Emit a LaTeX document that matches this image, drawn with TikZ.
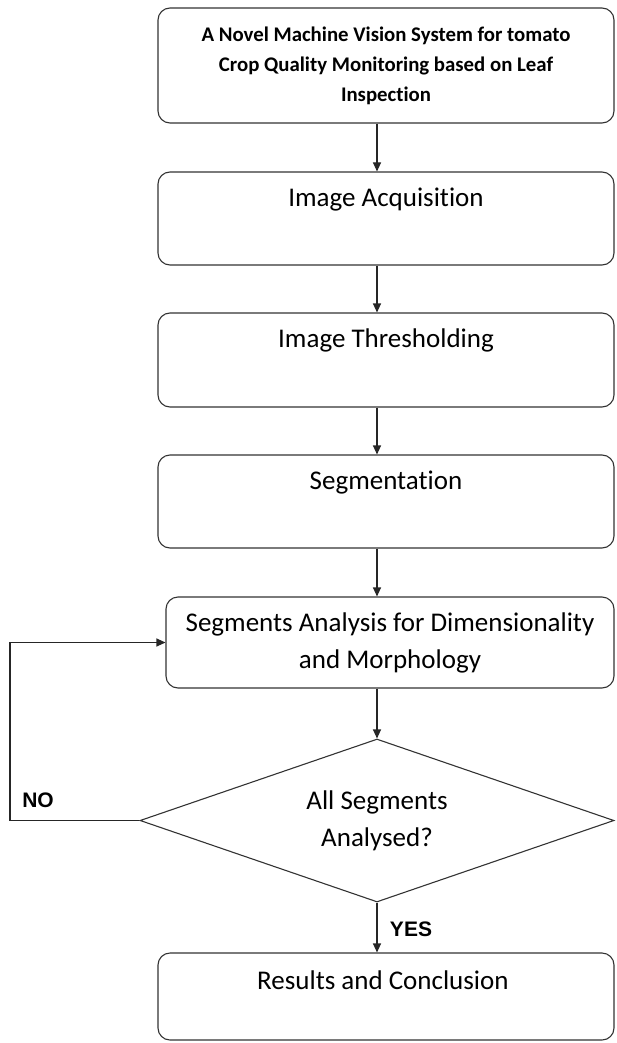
\documentclass[tikz,border=0pt]{standalone}
\usepackage{fontspec}
\setmainfont{Carlito}[Ligatures=NoCommon]
\newfontfamily\labelfont{Liberation Sans}
\usepackage{tikz}
\usetikzlibrary{arrows.meta, shapes.geometric}

\tikzset{
  stepbox/.style={draw=black!80, line width=1.1pt, rounded corners=12pt,
    minimum width=456pt, inner sep=0pt},
  steptext/.style={font=\fontsize{27}{37}\selectfont, align=center, inner sep=0pt},
  decision/.style={draw=black!80, line width=1.1pt, diamond, aspect=2.9, inner sep=0pt,
    minimum width=474pt, minimum height=163pt},
  flow/.style={draw=black!85, line width=1.1pt, -{Triangle[length=9pt,width=8pt]}},
  answer/.style={font=\labelfont\bfseries\fontsize{21}{24}\selectfont, inner sep=0pt}
}

\begin{document}
\begin{tikzpicture}[x=1pt, y=-1pt]
  \useasboundingbox (0,0) rectangle (616,1043);
  \coordinate (axis) at (377,0);
  \coordinate (loopx) at (10,0);

  \node[stepbox, minimum height=115pt, align=center,
        font=\bfseries\fontsize{20.8}{30}\selectfont] (title) at (386,65.5)
    {A Novel Machine Vision System for tomato\\Crop Quality Monitoring based on Leaf\\Inspection};

  % boxes with the text near the top
  \foreach \name/\y/\h/\txt in {
    acq/218.5/93/Image Acquisition,
    thr/360/94/Image Thresholding,
    seg/501.5/93/Segmentation,
    res/996.5/87/Results and Conclusion
  }{
    \node[stepbox, minimum height=\h pt] (\name) at (386,\y) {};
    \node[steptext] (\name text) at ([yshift=-28pt]\name.north) {\txt};
  }

  \node[stepbox, steptext, minimum width=448pt, minimum height=91pt] (ana) at (390,642.5)
    {Segments Analysis for Dimensionality\\and Morphology};
  \node[decision, steptext] (chk) at (377,820.5) {All Segments\\Analysed?};

  \foreach \a/\b in {title/acq, acq/thr, thr/seg, seg/ana, ana/chk, chk/res}
    \draw[flow] (\a.south -| axis) -- (\b.north -| axis);

  \draw[flow] (chk.west) -- (chk.west -| loopx) |- (ana.west);

  \node[answer] (no) at (38,800) {NO};
  \node[answer] (yes) at (411,929) {YES};
\end{tikzpicture}
\end{document}
